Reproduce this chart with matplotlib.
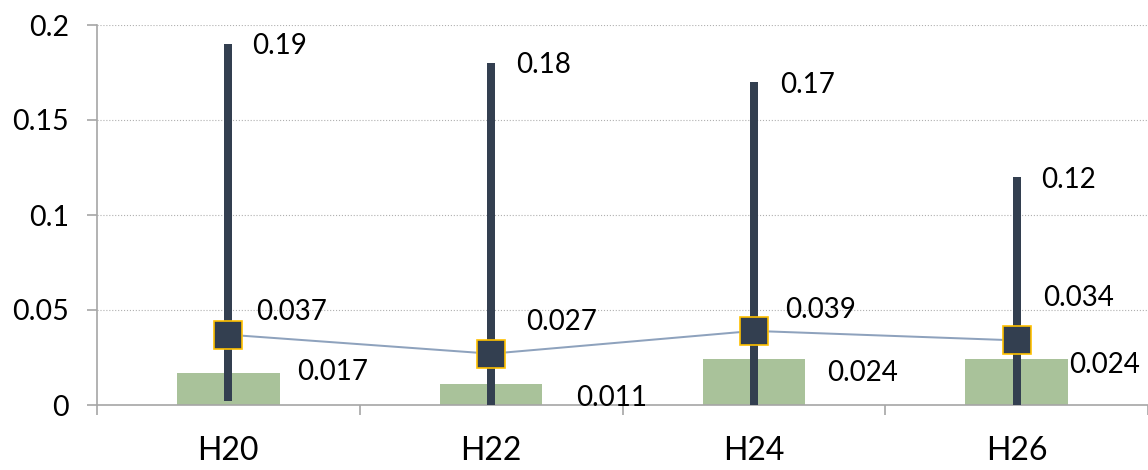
import matplotlib.pyplot as plt

categories = ["H20", "H22", "H24", "H26"]
bar_values = [0.017, 0.011, 0.024, 0.024]
range_low = [0.002, 0.0, 0.0, 0.0]
range_high = [0.19, 0.18, 0.17, 0.12]
mean_values = [0.037, 0.027, 0.039, 0.034]

# label offsets in pixels (dx, dy), placed like the Excel data labels
max_offsets = [(24, -2), (25, -2), (26, -3), (25, -3)]
mean_offsets = [(28, 23), (35, 32), (31, 21), (27, 42)]
bar_offsets = [(69, 1), (85, -14), (73, -14), (52, -6)]

plt.rcParams["font.family"] = ["Lato", "DejaVu Sans"]

fig = plt.figure(figsize=(11.48, 4.7), dpi=100)
ax = fig.add_axes([97 / 1148, 1 - 405 / 470, 1 - 97 / 1148, 380 / 470])

x = list(range(len(categories)))
px = 72 / 100  # pixels -> points

ax.bar(x, bar_values, width=0.39, color="#A9C29A", zorder=2)
ax.vlines(x, range_low, range_high, color="#333F50", linewidth=8 * px, zorder=3)
ax.plot(x, mean_values, color="#8EA2BD", linewidth=2 * px, zorder=4)
ax.plot(x, mean_values, linestyle="none", marker="s", markersize=28 * px,
        markerfacecolor="#333F50", markeredgecolor="#FFC000",
        markeredgewidth=1.2, zorder=5)

for i in x:
    ax.annotate(f"{range_high[i]:g}", (i, range_high[i]),
                xytext=(max_offsets[i][0] * px, max_offsets[i][1] * px),
                textcoords="offset points", ha="left", va="center", fontsize=20)
    ax.annotate(f"{mean_values[i]:g}", (i, mean_values[i]),
                xytext=(mean_offsets[i][0] * px, mean_offsets[i][1] * px),
                textcoords="offset points", ha="left", va="center", fontsize=20)
    ax.annotate(f"{bar_values[i]:g}", (i, bar_values[i]),
                xytext=(bar_offsets[i][0] * px, bar_offsets[i][1] * px),
                textcoords="offset points", ha="left", va="center", fontsize=20)

ax.set_xlim(-0.5, len(categories) - 0.5)
ax.set_ylim(0, 0.2)
ax.set_yticks([0, 0.05, 0.1, 0.15, 0.2])
ax.set_yticklabels(["0", "0.05", "0.1", "0.15", "0.2"], fontsize=20.5)
ax.set_xticks(x)
ax.set_xticklabels(categories, fontsize=23)
ax.set_xticks([i - 0.5 for i in range(len(categories) + 1)], minor=True)
ax.tick_params(axis="x", which="major", length=0, pad=22)
ax.tick_params(axis="x", which="minor", length=10 * px, color="#A6A6A6", width=1.2)
ax.tick_params(axis="y", length=10 * px, color="#A6A6A6", width=1.2, pad=13)

ax.grid(axis="y", color="#B0B0B0", linestyle=":", linewidth=0.8, zorder=0)
for side in ["top", "right"]:
    ax.spines[side].set_visible(False)
for side in ["left", "bottom"]:
    ax.spines[side].set_color("#A6A6A6")
    ax.spines[side].set_linewidth(1.2)

fig.savefig("out.png", dpi=100)
